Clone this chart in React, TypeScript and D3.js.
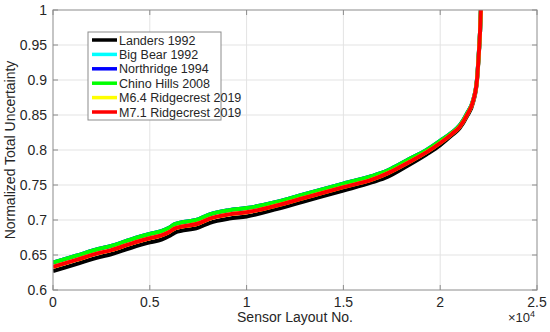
import React from "react";
import * as d3 from "d3";

const sensorNo = [0, 1200, 2400, 3000, 4000, 5000, 5600, 6000, 6300, 7500, 8100, 9100, 10000, 11600, 12900, 15000, 16500, 17300, 18400, 19300, 20000, 20600, 21000, 21400, 21700, 21900, 22000, 22060, 22100];

const landers = [0.627, 0.637, 0.647, 0.651, 0.660, 0.668, 0.672, 0.677, 0.682, 0.689, 0.696, 0.702, 0.705, 0.716, 0.726, 0.742, 0.754, 0.762, 0.779, 0.794, 0.807, 0.821, 0.831, 0.849, 0.868, 0.899, 0.939, 0.970, 1.0];
const chinoHills = [0.639, 0.649, 0.659, 0.663, 0.672, 0.680, 0.684, 0.689, 0.694, 0.701, 0.708, 0.714, 0.717, 0.726, 0.736, 0.752, 0.763, 0.771, 0.787, 0.800, 0.813, 0.825, 0.835, 0.853, 0.871, 0.901, 0.941, 0.970, 1.0];
const ridgecrest71 = [0.633, 0.643, 0.653, 0.657, 0.666, 0.674, 0.678, 0.683, 0.688, 0.695, 0.702, 0.708, 0.711, 0.721, 0.731, 0.747, 0.758, 0.767, 0.783, 0.797, 0.810, 0.823, 0.833, 0.851, 0.870, 0.900, 0.940, 0.970, 1.0];
const bigBear = chinoHills;
const northridge = chinoHills;
const ridgecrest64 = ridgecrest71;

const seriesNames = ["Landers 1992", "Big Bear 1992", "Northridge 1994", "Chino Hills 2008", "M6.4 Ridgecrest 2019", "M7.1 Ridgecrest 2019"];
const seriesValues = [landers, bigBear, northridge, chinoHills, ridgecrest64, ridgecrest71];
const seriesColors = ["#000000", "#00ffff", "#0000ff", "#00ff00", "#ffff00", "#ff0000"];

const xTicks = [0, 5000, 10000, 15000, 20000, 25000];
const xTickLabels = ["0", "0.5", "1", "1.5", "2", "2.5"];
const yTicks = [0.6, 0.65, 0.7, 0.75, 0.8, 0.85, 0.9, 0.95, 1];
const yTickLabels = ["0.6", "0.65", "0.7", "0.75", "0.8", "0.85", "0.9", "0.95", "1"];

export default function App() {
  const W = 550, H = 332;
  const left = 53, right = 537, top = 10, bottom = 290;
  const x = d3.scaleLinear().domain([0, 25000]).range([left, right]);
  const y = d3.scaleLinear().domain([0.6, 1]).range([bottom, top]);
  const font = "'Liberation Sans', Arial, Helvetica, sans-serif";
  const textColor = "#262626";
  const axisColor = "#8c8c8c";

  const lineGen = (vals: number[]) =>
    d3.line<number>()
      .x((_, i) => x(sensorNo[i]))
      .y((d) => y(d))
      .curve(d3.curveMonotoneX)(vals) || "";

  const legX = 88, legY = 32, legW = 133, legH = 88;
  const rowH = 14.4;

  return (
    <svg width={W} height={H} style={{ position: "absolute", left: 0, top: 0, background: "#fff" }}>
      <rect x={0} y={0} width={W} height={H} fill="#fff" />
      <defs>
        <clipPath id="plotclip">
          <rect x={left} y={top} width={right - left} height={bottom - top} />
        </clipPath>
      </defs>
      {xTicks.slice(1, -1).map((t) => (
        <line key={"gx" + t} x1={x(t)} x2={x(t)} y1={top} y2={bottom} stroke="#e3e3e3" strokeWidth={1} />
      ))}
      {yTicks.slice(1, -1).map((t) => (
        <line key={"gy" + t} x1={left} x2={right} y1={y(t)} y2={y(t)} stroke="#e3e3e3" strokeWidth={1} />
      ))}
      <g clipPath="url(#plotclip)">
        {seriesValues.map((vals, i) => (
          <path key={i} d={lineGen(vals)} fill="none" stroke={seriesColors[i]} strokeWidth={4} strokeLinejoin="round" />
        ))}
      </g>
      <rect x={left} y={top} width={right - left} height={bottom - top} fill="none" stroke={axisColor} strokeWidth={1} />
      {xTicks.map((t) => (
        <g key={"tx" + t}>
          <line x1={x(t)} x2={x(t)} y1={bottom} y2={bottom - 5} stroke={axisColor} />
          <line x1={x(t)} x2={x(t)} y1={top} y2={top + 5} stroke={axisColor} />
        </g>
      ))}
      {yTicks.map((t) => (
        <g key={"ty" + t}>
          <line x1={left} x2={left + 5} y1={y(t)} y2={y(t)} stroke={axisColor} />
          <line x1={right} x2={right - 5} y1={y(t)} y2={y(t)} stroke={axisColor} />
        </g>
      ))}
      {xTicks.map((t, i) => (
        <text key={"lx" + t} x={x(t)} y={307} textAnchor="middle" fontFamily={font} fontSize={14} fill={textColor}>
          {xTickLabels[i]}
        </text>
      ))}
      {yTicks.map((t, i) => (
        <text key={"ly" + t} x={47} y={y(t) + 5} textAnchor="end" fontFamily={font} fontSize={14} fill={textColor}>
          {yTickLabels[i]}
        </text>
      ))}
      <text x={535} y={322} textAnchor="end" fontFamily={font} fontSize={13} fill={textColor}>
        ×10<tspan dy={-5} fontSize={9}>4</tspan>
      </text>
      <text x={295} y={322} textAnchor="middle" fontFamily={font} fontSize={14} fill={textColor}>
        Sensor Layout No.
      </text>
      <text transform={`translate(15,150) rotate(-90)`} textAnchor="middle" fontFamily={font} fontSize={14} fill={textColor}>
        Normalized Total Uncertainty
      </text>
      <rect x={legX} y={legY} width={legW} height={legH} fill="#fff" stroke={axisColor} strokeWidth={1} />
      {seriesNames.map((name, i) => (
        <g key={name}>
          <line x1={92} x2={117} y1={legY + 8 + i * rowH} y2={legY + 8 + i * rowH} stroke={seriesColors[i]} strokeWidth={3.5} />
          <text x={119} y={legY + 8 + i * rowH + 4.5} fontFamily={font} fontSize={12.5} fill={textColor}>
            {name}
          </text>
        </g>
      ))}
    </svg>
  );
}
